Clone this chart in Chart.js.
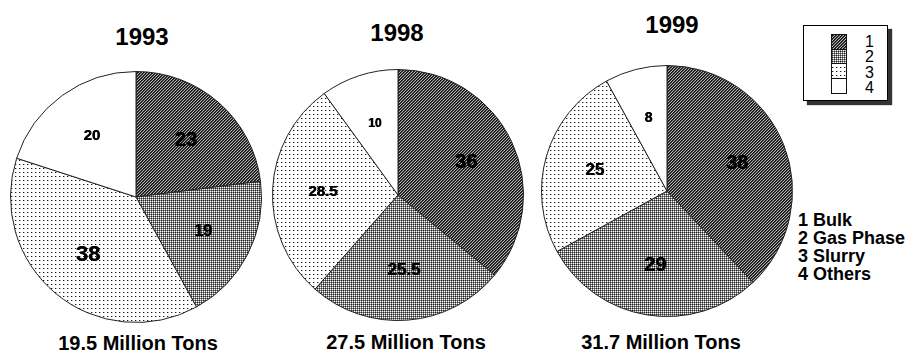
<!DOCTYPE html>
<html>
<head>
<meta charset="utf-8">
<script src="https://cdn.jsdelivr.net/npm/chart.js@4/dist/chart.umd.min.js"></script>
<style>
  html, body { margin:0; padding:0; background:#fff; }
  body { width:906px; height:352px; position:relative; overflow:hidden;
         font-family:"Liberation Sans", Arial, Helvetica, sans-serif; color:#000; }
  .t { position:absolute; text-align:center; font-weight:bold; white-space:nowrap; }
  .year { font-size:24px; line-height:24px; width:200px; }
  .cap { font-size:20px; line-height:20px; width:240px; }
  canvas.pie { position:absolute; }
  #lbox { position:absolute; left:803px; top:25px; width:83px; height:74px;
          border:1px solid #000; background:#fff; box-shadow:4px 4px 1px #333; }
  #lnums { position:absolute; left:865px; top:34px; font-size:16px; line-height:15.3px; }
  #lnames { position:absolute; left:798px; top:211px; font-size:18px; line-height:18px; font-weight:bold; white-space:nowrap; }
  #swatch { position:absolute; left:831px; top:34px; }
</style>
</head>
<body>
<script>
// ---------- data ----------
const years = ['1993', '1998', '1999'];
const totalsMillionTons = [19.5, 27.5, 31.7];
const categories = ['Bulk', 'Gas Phase', 'Slurry', 'Others'];
const share1993 = [23, 19, 38, 20];
const share1998 = [36, 25.5, 28.5, 10];
const share1999 = [38, 29, 25, 8];
const shares = [share1993, share1998, share1999];

// ---------- styles ----------
const labelSizes = [[20, 16, 22, 15], [20, 17, 15, 12], [20, 20, 17, 14]];
const pieBoxes = [ {left:10, top:71, size:252}, {left:272, top:69, size:252}, {left:541, top:65, size:252} ];
const yearPos = [ {cx:142, top:25}, {cx:397, top:21}, {cx:672, top:13} ];
const capPos = [ {cx:138, top:333}, {cx:406, top:332}, {cx:661, top:332} ];

function makePattern(kind) {
  const c = document.createElement('canvas');
  const ctx = c.getContext('2d');
  const px = (x, y, col) => { ctx.fillStyle = col; ctx.fillRect(x, y, 1, 1); };
  if (kind === 0) {
    c.width = 3; c.height = 3;
    const cols = ['#111111', '#3c3c3c', '#b4b4b4'];
    for (let x = 0; x < 3; x++) for (let y = 0; y < 3; y++) px(x, y, cols[(x + y + 1) % 3]);
  } else if (kind === 1) {
    c.width = 2; c.height = 2;
    px(0, 0, '#ffffff'); px(1, 0, '#808080'); px(0, 1, '#808080'); px(1, 1, '#2a2a2a');
  } else if (kind === 2) {
    c.width = 4; c.height = 4;
    ctx.fillStyle = '#ffffff'; ctx.fillRect(0, 0, 4, 4);
    px(1, 1, '#1a1a1a'); px(2, 1, '#b0b0b0');
  } else {
    c.width = 2; c.height = 2;
    ctx.fillStyle = '#ffffff'; ctx.fillRect(0, 0, 2, 2);
  }
  return document.createElement('canvas').getContext('2d').createPattern(c, 'repeat');
}
const patterns = [0, 1, 2, 3].map(makePattern);

// value labels inside slices
const sliceLabels = {
  id: 'sliceLabels',
  afterDatasetsDraw(chart, args, opts) {
    const ctx = chart.ctx;
    const meta = chart.getDatasetMeta(0);
    const data = chart.data.datasets[0].data;
    ctx.save();
    ctx.fillStyle = '#000';
    ctx.textAlign = 'center';
    ctx.textBaseline = 'middle';
    meta.data.forEach((arc, i) => {
      const p = arc.getProps(['x', 'y', 'startAngle', 'endAngle', 'outerRadius'], true);
      const mid = (p.startAngle + p.endAngle) / 2;
      const r = p.outerRadius * 0.6;
      ctx.font = 'bold ' + opts.sizes[i] + 'px "Liberation Sans", Arial, sans-serif';
      const tx = p.x + Math.cos(mid) * r, ty = p.y + Math.sin(mid) * r;
      ctx.fillText(String(data[i]), tx, ty);
      ctx.fillText(String(data[i]), tx + 0.6, ty);
    });
    ctx.restore();
  }
};

years.forEach((yr, k) => {
  const y = document.createElement('div');
  y.className = 't year';
  y.style.left = (yearPos[k].cx - 100) + 'px';
  y.style.top = yearPos[k].top + 'px';
  y.textContent = yr;
  document.body.appendChild(y);

  const cap = document.createElement('div');
  cap.className = 't cap';
  cap.style.left = (capPos[k].cx - 120) + 'px';
  cap.style.top = capPos[k].top + 'px';
  cap.textContent = totalsMillionTons[k] + ' Million Tons';
  document.body.appendChild(cap);

  const cv = document.createElement('canvas');
  cv.className = 'pie';
  const b = pieBoxes[k];
  cv.width = b.size; cv.height = b.size;
  cv.style.left = b.left + 'px'; cv.style.top = b.top + 'px';
  cv.style.width = b.size + 'px'; cv.style.height = b.size + 'px';
  document.body.appendChild(cv);

  new Chart(cv, {
    type: 'pie',
    data: {
      labels: categories,
      datasets: [{
        data: shares[k],
        backgroundColor: patterns,
        borderColor: '#222',
        borderWidth: 1,
        hoverOffset: 0
      }]
    },
    options: {
      responsive: false,
      animation: false,
      devicePixelRatio: 1,
      layout: { padding: 0 },
      plugins: {
        legend: { display: false },
        tooltip: { enabled: false },
        title: { display: false },
        sliceLabels: { sizes: labelSizes[k] }
      },
      events: []
    },
    plugins: [sliceLabels]
  });
});

// legend box
const box = document.createElement('div'); box.id = 'lbox'; document.body.appendChild(box);
const sw = document.createElement('canvas'); sw.id = 'swatch'; sw.width = 16; sw.height = 60;
document.body.appendChild(sw);
{
  const ctx = sw.getContext('2d');
  const hs = [0, 15, 29, 44, 59];
  for (let i = 0; i < 4; i++) {
    ctx.fillStyle = patterns[i];
    ctx.fillRect(0, hs[i], 16, hs[i + 1] - hs[i]);
  }
  ctx.strokeStyle = '#111'; ctx.lineWidth = 1;
  ctx.strokeRect(0.5, 0.5, 15, 59);
  for (let i = 1; i < 4; i++) {
    ctx.beginPath(); ctx.moveTo(0, hs[i] + 0.5); ctx.lineTo(16, hs[i] + 0.5); ctx.stroke();
  }
}
const nums = document.createElement('div'); nums.id = 'lnums';
nums.innerHTML = categories.map((c, i) => (i + 1)).join('<br>');
document.body.appendChild(nums);
const names = document.createElement('div'); names.id = 'lnames';
names.innerHTML = categories.map((c, i) => (i + 1) + ' ' + c).join('<br>');
document.body.appendChild(names);
</script>
</body>
</html>
